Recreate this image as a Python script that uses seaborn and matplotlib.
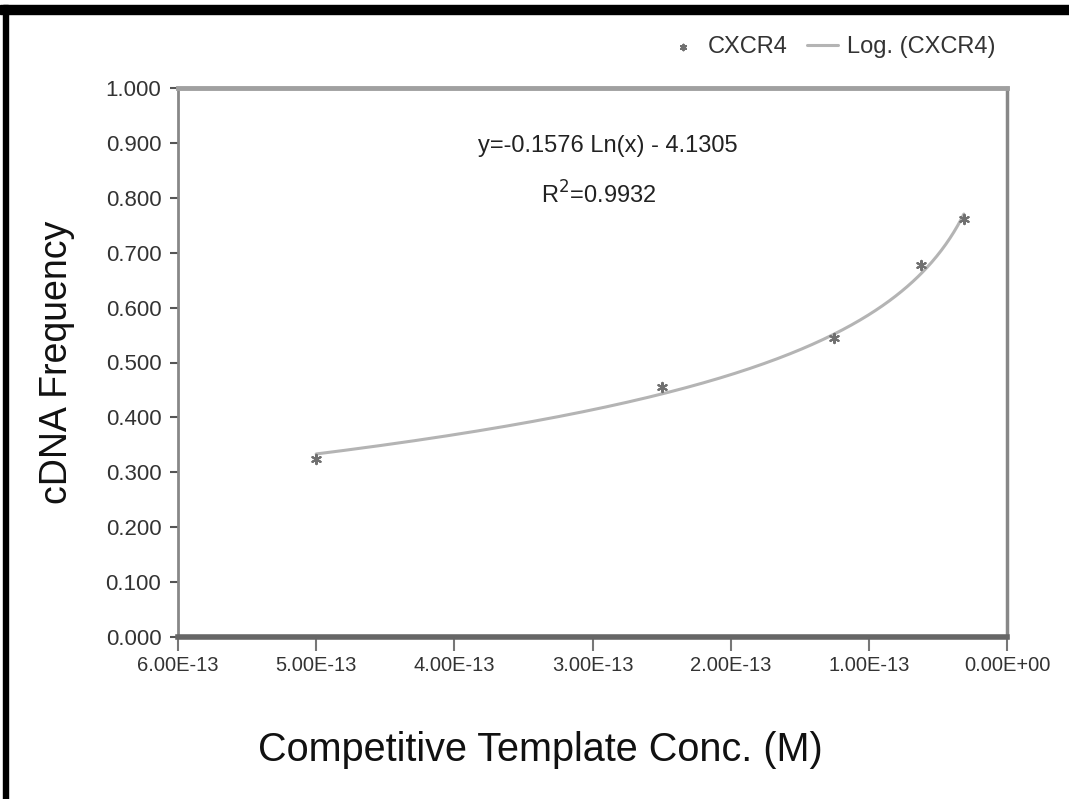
import numpy as np
import pandas as pd
import matplotlib
matplotlib.use("Agg")
import matplotlib.pyplot as plt
import seaborn as sns
from matplotlib.ticker import FixedLocator

# ---- data ----
conc = [5.0e-13, 2.5e-13, 1.25e-13, 6.25e-14, 3.125e-14]
freq = [0.324, 0.455, 0.545, 0.677, 0.762]
fit_slope = -0.1576
fit_intercept = -4.1305
r_squared = 0.9932
x_ticks = [6e-13, 5e-13, 4e-13, 3e-13, 2e-13, 1e-13, 0.0]
x_tick_labels = ["6.00E-13", "5.00E-13", "4.00E-13", "3.00E-13", "2.00E-13", "1.00E-13", "0.00E+00"]
y_ticks = [0.0, 0.1, 0.2, 0.3, 0.4, 0.5, 0.6, 0.7, 0.8, 0.9, 1.0]
y_tick_labels = ["0.000", "0.100", "0.200", "0.300", "0.400", "0.500", "0.600", "0.700", "0.800", "0.900", "1.000"]

sns.set_theme(style="white")
plt.rcParams['font.family'] = ['Liberation Sans Narrow', 'Liberation Sans', 'DejaVu Sans']

NARROW = ['Liberation Sans Narrow', 'Liberation Sans', 'DejaVu Sans']
WIDE = ['Liberation Sans', 'DejaVu Sans']

fig = plt.figure(figsize=(10.69, 7.99), dpi=100)
ax = fig.add_axes([178/1069, 1-637/799, (1007-178)/1069, (637-88)/799])

df = pd.DataFrame({"conc": conc, "freq": freq})
xs = np.geomspace(min(conc), max(conc), 200)
trend = pd.DataFrame({"conc": xs, "freq": fit_slope*np.log(xs) + fit_intercept})

sns.lineplot(data=trend, x="conc", y="freq", ax=ax, color="#b4b4b4", lw=2.2,
             label="Log. (CXCR4)", zorder=2)
sns.scatterplot(data=df, x="conc", y="freq", ax=ax, marker=(6, 2, 0), s=45,
                color="#707070", linewidth=1.5, edgecolor="#707070",
                label="CXCR4", zorder=3)

ax.set_xlim(6e-13, 0.0)
ax.set_ylim(0, 1.0)
ax.xaxis.set_major_locator(FixedLocator(x_ticks))
ax.set_xticklabels(x_tick_labels)
ax.yaxis.set_major_locator(FixedLocator(y_ticks))
ax.set_yticklabels(y_tick_labels)
ax.tick_params(axis='x', which='major', direction='out', length=10, width=1.5,
               color='#777777', labelsize=14.5, pad=4, bottom=True)
ax.tick_params(axis='y', which='major', direction='out', length=6, width=1.5,
               color='#555555', labelsize=16, pad=6, left=True)
for lab in ax.get_xticklabels() + ax.get_yticklabels():
    lab.set_family(NARROW)
    lab.set_color("#333333")

ax.spines['top'].set_color('#a0a0a0'); ax.spines['top'].set_linewidth(3.5)
ax.spines['right'].set_color('#888888'); ax.spines['right'].set_linewidth(2.5)
ax.spines['left'].set_color('#888888'); ax.spines['left'].set_linewidth(2)
ax.spines['bottom'].set_color('#666666'); ax.spines['bottom'].set_linewidth(4)

ax.set_xlabel("Competitive Template Conc. (M)", fontsize=28.5, family=WIDE, color="#111111", labelpad=34)
ax.xaxis.set_label_coords((540-178)/829, -(750-637)/549)
ax.xaxis.label.set_va('center')
ax.set_ylabel("cDNA Frequency", fontsize=27, family=WIDE, color="#111111", labelpad=22)

ax.text(0.518, 0.895, "y=-0.1576 Ln(x) - 4.1305", transform=ax.transAxes, ha='center', va='center',
        fontsize=17, family=NARROW, color="#222222")
ax.text(0.507, 0.805, "R$^2$=%.4f" % r_squared, transform=ax.transAxes, ha='center', va='center',
        fontsize=17, family=NARROW, color="#222222")

h, l = ax.get_legend_handles_labels()
order = [l.index("CXCR4"), l.index("Log. (CXCR4)")]
leg = ax.legend([h[i] for i in order], [l[i] for i in order], ncol=2, frameon=False,
                loc='center right', bbox_to_anchor=(1005/1069, 1-47/799), bbox_transform=fig.transFigure,
                prop={'family': NARROW, 'size': 17}, handlelength=1.3, handletextpad=0.4,
                columnspacing=0.8, markerscale=0.6, borderaxespad=0)
for t in leg.get_texts():
    t.set_color("#333333")

# black frame on top and left
fig.patches.append(plt.Rectangle((0, 1-14/799), 1, 9/799, transform=fig.transFigure,
                                 color='black', zorder=0))
fig.patches.append(plt.Rectangle((3/1069, 0), 5/1069, 1-5/799, transform=fig.transFigure,
                                 color='black', zorder=0))

fig.savefig("out.png", dpi=100)
